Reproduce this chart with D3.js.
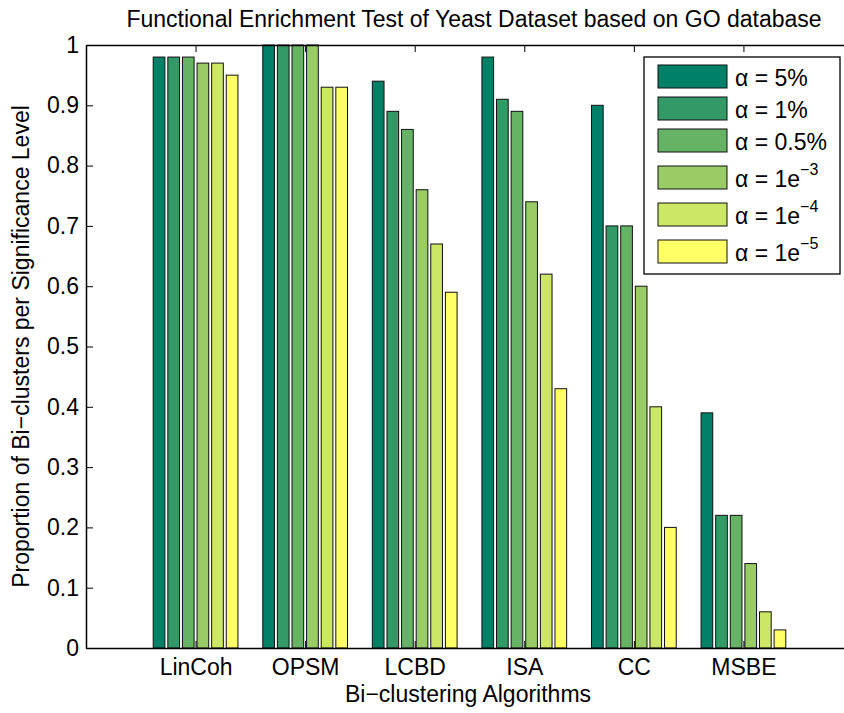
<!DOCTYPE html>
<html>
<head>
<meta charset="utf-8">
<script src="https://cdn.jsdelivr.net/npm/d3@7"></script>
<style>
  html, body { margin: 0; padding: 0; background: #fff; }
  svg { display: block; font-family: "Liberation Sans", Arial, sans-serif; }
</style>
</head>
<body>
<svg id="chart" width="844" height="713"></svg>
<script>
// Bi-clustering algorithms compared
const algorithms = ["LinCoh", "OPSM", "LCBD", "ISA", "CC", "MSBE"];

// Significance levels: base text and optional superscript exponent
const levelBase = ["α = 5%", "α = 1%", "α = 0.5%", "α = 1e", "α = 1e", "α = 1e"];
const levelExp  = [null, null, null, "−3", "−4", "−5"];

// Proportion of enriched bi-clusters, one array per significance level
const alpha5pct  = [0.98, 1.00, 0.94, 0.98, 0.90, 0.39];
const alpha1pct  = [0.98, 1.00, 0.89, 0.91, 0.70, 0.22];
const alpha05pct = [0.98, 1.00, 0.86, 0.89, 0.70, 0.22];
const alpha1e3   = [0.97, 1.00, 0.76, 0.74, 0.60, 0.14];
const alpha1e4   = [0.97, 0.93, 0.67, 0.62, 0.40, 0.06];
const alpha1e5   = [0.95, 0.93, 0.59, 0.43, 0.20, 0.03];
const seriesValues = [alpha5pct, alpha1pct, alpha05pct, alpha1e3, alpha1e4, alpha1e5];

const yTicks = [0, 0.1, 0.2, 0.3, 0.4, 0.5, 0.6, 0.7, 0.8, 0.9, 1];

// "summer" style palette, dark green to yellow
const colors = ["#008066", "#339966", "#66b366", "#99cc66", "#cce666", "#ffff66"];

const svg = d3.select("#chart");
const plotL = 86, plotR = 853, plotT = 45, plotB = 648;
const fontSize = 23;

// Linear x scale on group index: groups sit at 1..6 within [0, 7]
const x = d3.scaleLinear().domain([0, 7]).range([plotL, plotR]);
const y = d3.scaleLinear().domain([0, 1]).range([plotB, plotT]);

const nSeries = seriesValues.length;
const groupWidth = 0.8;
const slot = groupWidth / nSeries;
const barW = slot * 0.8;

// Bars
const g = svg.append("g");
seriesValues.forEach((vals, s) => {
  g.selectAll(null)
    .data(vals)
    .join("rect")
    .attr("x", (d, i) => x(i + 1 - groupWidth / 2 + s * slot + (slot - barW) / 2))
    .attr("width", x(barW) - x(0))
    .attr("y", d => y(d))
    .attr("height", d => y(0) - y(d))
    .attr("fill", colors[s])
    .attr("stroke", "#111")
    .attr("stroke-width", 1);
});

// Axes box with inward ticks
const tickLen = 7;
const yAxisL = d3.axisLeft(y).tickValues(yTicks).tickFormat(d3.format("")).tickSizeInner(-tickLen).tickSizeOuter(0).tickPadding(7);
const yAxisR = d3.axisRight(y).tickValues(yTicks).tickFormat("").tickSizeInner(-tickLen).tickSizeOuter(0);
const xTicks = d3.range(1, algorithms.length + 1);
const xAxisB = d3.axisBottom(x).tickValues(xTicks).tickFormat(i => algorithms[i - 1]).tickSizeInner(-tickLen).tickSizeOuter(0).tickPadding(11);
const xAxisT = d3.axisTop(x).tickValues(xTicks).tickFormat("").tickSizeInner(-tickLen).tickSizeOuter(0);

function style(sel) {
  sel.select(".domain").attr("stroke", "#000").attr("stroke-width", 1.5);
  sel.selectAll(".tick line").attr("stroke", "#000").attr("stroke-width", 1);
  sel.selectAll("text").attr("fill", "#000").style("font-size", fontSize + "px").style("font-family", "'Liberation Sans', Arial, sans-serif");
}
svg.append("g").attr("transform", `translate(${plotL},0)`).call(yAxisL).call(style);
svg.append("g").attr("transform", `translate(${plotR},0)`).call(yAxisR).call(style);
svg.append("g").attr("transform", `translate(0,${plotB})`).call(xAxisB).call(style);
svg.append("g").attr("transform", `translate(0,${plotT})`).call(xAxisT).call(style);

// Title and axis labels
svg.append("text")
  .attr("x", 474).attr("y", 27)
  .attr("text-anchor", "middle")
  .style("font-size", "23px")
  .text("Functional Enrichment Test of Yeast Dataset based on GO database");

svg.append("text")
  .attr("x", 468).attr("y", 702)
  .attr("text-anchor", "middle")
  .style("font-size", fontSize + "px")
  .text("Bi−clustering Algorithms");

svg.append("text")
  .attr("transform", `translate(29,${(plotT + plotB) / 2}) rotate(-90)`)
  .attr("text-anchor", "middle")
  .style("font-size", fontSize + "px")
  .text("Proportion of Bi−clusters per Significance Level");

// Legend
const lg = svg.append("g");
lg.append("rect")
  .attr("x", 644).attr("y", 57).attr("width", 196).attr("height", 217)
  .attr("fill", "#fff").attr("stroke", "#000").attr("stroke-width", 1.3);

let rowTop = 65;
levelBase.forEach((txt, s) => {
  if (s > 0) rowTop += levelExp[s] ? 37 : 32;
  lg.append("rect")
    .attr("x", 658).attr("y", rowTop).attr("width", 69).attr("height", 23)
    .attr("fill", colors[s]).attr("stroke", "#111").attr("stroke-width", 1);
  const t = lg.append("text")
    .attr("x", 735).attr("y", rowTop + 21)
    .style("font-size", fontSize + "px");
  t.append("tspan").text(txt);
  if (levelExp[s]) {
    t.append("tspan").attr("dy", -12).style("font-size", "16px").text(levelExp[s]);
  }
});
</script>
</body>
</html>
